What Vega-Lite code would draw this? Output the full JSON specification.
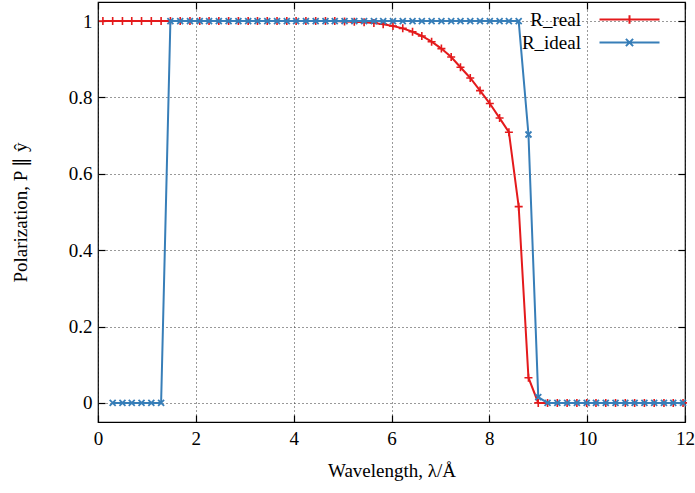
{
  "$schema": "https://vega.github.io/schema/vega-lite/v6.json",
  "width": 587,
  "height": 420,
  "autosize": {"type": "none"},
  "padding": {"left": 98, "top": 2, "right": 10, "bottom": 71},
  "background": "white",
  "config": {
    "font": "Liberation Serif",
    "view": {"stroke": "black", "strokeWidth": 1.2},
    "axis": {
      "labelFont": "Liberation Serif",
      "titleFont": "Liberation Serif",
      "labelFontSize": 19,
      "titleFontSize": 19,
      "titleFontWeight": "normal",
      "labelColor": "black",
      "titleColor": "black",
      "labelFlush": false,
      "domain": false,
      "tickColor": "black",
      "tickSize": -7,
      "tickWidth": 1.2
    },
    "legend": {
      "labelFont": "Liberation Serif",
      "labelFontSize": 19,
      "labelColor": "black"
    }
  },
  "data": {
    "values": [
      {"series": "R_real", "wavelength": 0.10, "P": 1},
      {"series": "R_real", "wavelength": 0.30, "P": 1},
      {"series": "R_real", "wavelength": 0.50, "P": 1},
      {"series": "R_real", "wavelength": 0.69, "P": 1},
      {"series": "R_real", "wavelength": 0.89, "P": 1},
      {"series": "R_real", "wavelength": 1.09, "P": 1},
      {"series": "R_real", "wavelength": 1.29, "P": 1},
      {"series": "R_real", "wavelength": 1.48, "P": 1},
      {"series": "R_real", "wavelength": 1.68, "P": 1},
      {"series": "R_real", "wavelength": 1.88, "P": 1},
      {"series": "R_real", "wavelength": 2.08, "P": 1},
      {"series": "R_real", "wavelength": 2.27, "P": 1},
      {"series": "R_real", "wavelength": 2.47, "P": 1},
      {"series": "R_real", "wavelength": 2.67, "P": 1},
      {"series": "R_real", "wavelength": 2.87, "P": 1},
      {"series": "R_real", "wavelength": 3.07, "P": 1},
      {"series": "R_real", "wavelength": 3.26, "P": 1},
      {"series": "R_real", "wavelength": 3.46, "P": 1},
      {"series": "R_real", "wavelength": 3.66, "P": 1},
      {"series": "R_real", "wavelength": 3.86, "P": 1},
      {"series": "R_real", "wavelength": 4.05, "P": 1},
      {"series": "R_real", "wavelength": 4.25, "P": 1},
      {"series": "R_real", "wavelength": 4.45, "P": 1},
      {"series": "R_real", "wavelength": 4.65, "P": 1},
      {"series": "R_real", "wavelength": 4.84, "P": 1},
      {"series": "R_real", "wavelength": 5.04, "P": 0.999},
      {"series": "R_real", "wavelength": 5.24, "P": 0.998},
      {"series": "R_real", "wavelength": 5.44, "P": 0.997},
      {"series": "R_real", "wavelength": 5.64, "P": 0.995},
      {"series": "R_real", "wavelength": 5.83, "P": 0.992},
      {"series": "R_real", "wavelength": 6.03, "P": 0.987},
      {"series": "R_real", "wavelength": 6.23, "P": 0.981},
      {"series": "R_real", "wavelength": 6.43, "P": 0.972},
      {"series": "R_real", "wavelength": 6.62, "P": 0.961},
      {"series": "R_real", "wavelength": 6.82, "P": 0.946},
      {"series": "R_real", "wavelength": 7.02, "P": 0.928},
      {"series": "R_real", "wavelength": 7.22, "P": 0.906},
      {"series": "R_real", "wavelength": 7.41, "P": 0.879},
      {"series": "R_real", "wavelength": 7.61, "P": 0.851},
      {"series": "R_real", "wavelength": 7.81, "P": 0.818},
      {"series": "R_real", "wavelength": 8.01, "P": 0.784},
      {"series": "R_real", "wavelength": 8.21, "P": 0.746},
      {"series": "R_real", "wavelength": 8.40, "P": 0.709},
      {"series": "R_real", "wavelength": 8.60, "P": 0.514},
      {"series": "R_real", "wavelength": 8.80, "P": 0.066},
      {"series": "R_real", "wavelength": 9.00, "P": 0},
      {"series": "R_real", "wavelength": 9.19, "P": 0},
      {"series": "R_real", "wavelength": 9.39, "P": 0},
      {"series": "R_real", "wavelength": 9.59, "P": 0},
      {"series": "R_real", "wavelength": 9.79, "P": 0},
      {"series": "R_real", "wavelength": 9.99, "P": 0},
      {"series": "R_real", "wavelength": 10.18, "P": 0},
      {"series": "R_real", "wavelength": 10.38, "P": 0},
      {"series": "R_real", "wavelength": 10.58, "P": 0},
      {"series": "R_real", "wavelength": 10.78, "P": 0},
      {"series": "R_real", "wavelength": 10.97, "P": 0},
      {"series": "R_real", "wavelength": 11.17, "P": 0},
      {"series": "R_real", "wavelength": 11.37, "P": 0},
      {"series": "R_real", "wavelength": 11.57, "P": 0},
      {"series": "R_real", "wavelength": 11.76, "P": 0},
      {"series": "R_real", "wavelength": 11.96, "P": 0},
      {"series": "R_ideal", "wavelength": 0.30, "P": 0},
      {"series": "R_ideal", "wavelength": 0.50, "P": 0},
      {"series": "R_ideal", "wavelength": 0.69, "P": 0},
      {"series": "R_ideal", "wavelength": 0.89, "P": 0},
      {"series": "R_ideal", "wavelength": 1.09, "P": 0},
      {"series": "R_ideal", "wavelength": 1.29, "P": 0},
      {"series": "R_ideal", "wavelength": 1.48, "P": 1},
      {"series": "R_ideal", "wavelength": 1.68, "P": 1},
      {"series": "R_ideal", "wavelength": 1.88, "P": 1},
      {"series": "R_ideal", "wavelength": 2.08, "P": 1},
      {"series": "R_ideal", "wavelength": 2.27, "P": 1},
      {"series": "R_ideal", "wavelength": 2.47, "P": 1},
      {"series": "R_ideal", "wavelength": 2.67, "P": 1},
      {"series": "R_ideal", "wavelength": 2.87, "P": 1},
      {"series": "R_ideal", "wavelength": 3.07, "P": 1},
      {"series": "R_ideal", "wavelength": 3.26, "P": 1},
      {"series": "R_ideal", "wavelength": 3.46, "P": 1},
      {"series": "R_ideal", "wavelength": 3.66, "P": 1},
      {"series": "R_ideal", "wavelength": 3.86, "P": 1},
      {"series": "R_ideal", "wavelength": 4.05, "P": 1},
      {"series": "R_ideal", "wavelength": 4.25, "P": 1},
      {"series": "R_ideal", "wavelength": 4.45, "P": 1},
      {"series": "R_ideal", "wavelength": 4.65, "P": 1},
      {"series": "R_ideal", "wavelength": 4.84, "P": 1},
      {"series": "R_ideal", "wavelength": 5.04, "P": 1},
      {"series": "R_ideal", "wavelength": 5.24, "P": 1},
      {"series": "R_ideal", "wavelength": 5.44, "P": 1},
      {"series": "R_ideal", "wavelength": 5.64, "P": 1},
      {"series": "R_ideal", "wavelength": 5.83, "P": 1},
      {"series": "R_ideal", "wavelength": 6.03, "P": 1},
      {"series": "R_ideal", "wavelength": 6.23, "P": 1},
      {"series": "R_ideal", "wavelength": 6.43, "P": 1},
      {"series": "R_ideal", "wavelength": 6.62, "P": 1},
      {"series": "R_ideal", "wavelength": 6.82, "P": 1},
      {"series": "R_ideal", "wavelength": 7.02, "P": 1},
      {"series": "R_ideal", "wavelength": 7.22, "P": 1},
      {"series": "R_ideal", "wavelength": 7.41, "P": 1},
      {"series": "R_ideal", "wavelength": 7.61, "P": 1},
      {"series": "R_ideal", "wavelength": 7.81, "P": 1},
      {"series": "R_ideal", "wavelength": 8.01, "P": 1},
      {"series": "R_ideal", "wavelength": 8.21, "P": 1},
      {"series": "R_ideal", "wavelength": 8.40, "P": 1},
      {"series": "R_ideal", "wavelength": 8.60, "P": 1},
      {"series": "R_ideal", "wavelength": 8.80, "P": 0.703},
      {"series": "R_ideal", "wavelength": 9.00, "P": 0.015},
      {"series": "R_ideal", "wavelength": 9.19, "P": 0},
      {"series": "R_ideal", "wavelength": 9.39, "P": 0},
      {"series": "R_ideal", "wavelength": 9.59, "P": 0},
      {"series": "R_ideal", "wavelength": 9.79, "P": 0},
      {"series": "R_ideal", "wavelength": 9.99, "P": 0},
      {"series": "R_ideal", "wavelength": 10.18, "P": 0},
      {"series": "R_ideal", "wavelength": 10.38, "P": 0},
      {"series": "R_ideal", "wavelength": 10.58, "P": 0},
      {"series": "R_ideal", "wavelength": 10.78, "P": 0},
      {"series": "R_ideal", "wavelength": 10.97, "P": 0},
      {"series": "R_ideal", "wavelength": 11.17, "P": 0},
      {"series": "R_ideal", "wavelength": 11.37, "P": 0},
      {"series": "R_ideal", "wavelength": 11.57, "P": 0},
      {"series": "R_ideal", "wavelength": 11.76, "P": 0},
      {"series": "R_ideal", "wavelength": 11.96, "P": 0}
    ]
  },
  "layer": [
    {
      "encoding": {
        "x": {
          "field": "wavelength",
          "type": "quantitative",
          "scale": {"domain": [0, 12], "nice": false, "zero": false},
          "axis": {
            "values": [0, 2, 4, 6, 8, 10, 12],
            "format": "~g",
            "grid": true,
            "gridColor": "#333",
            "gridDash": [1, 3],
            "gridWidth": 1,
            "labelPadding": 14,
            "title": "Wavelength, λ/Å",
            "titlePadding": 13
          }
        },
        "y": {
          "field": "P",
          "type": "quantitative",
          "scale": {"domain": [-0.05, 1.05], "nice": false, "zero": false},
          "axis": {
            "values": [0, 0.2, 0.4, 0.6, 0.8, 1],
            "format": "~g",
            "grid": true,
            "gridColor": "#333",
            "gridDash": [1, 3],
            "gridWidth": 1,
            "labelPadding": 13,
            "title": "Polarization, P ∥ ŷ",
            "titlePadding": 38
          }
        }
      },
      "layer": [
        {
          "transform": [{"filter": "datum.series === 'R_real'"}],
          "mark": {"type": "line", "strokeWidth": 2},
          "encoding": {
            "color": {
              "field": "series",
              "type": "nominal",
              "scale": {"domain": ["R_real", "R_ideal"], "range": ["#e41a1c", "#377eb8"]},
              "legend": {
                "title": null,
                "orient": "none",
                "legendX": 522,
                "legendY": 8,
                "padding": 0,
                "rowPadding": 3,
                "symbolSize": 144,
                "symbolStrokeWidth": 2,
                "labelAlign": "right",
                "labelOffset": -58,
                "encode": {
                  "symbols": {
                    "update": {
                      "shape": {"signal": "datum.value === 'R_real' ? 'M-5,0H5M0,-0.7V0.7' : 'M-5,0H5M-0.6,-0.6L0.6,0.6M-0.6,0.6L0.6,-0.6'"},
                      "strokeWidth": {"value": 2}
                    }
                  }
                }
              }
            }
          }
        },
        {
          "transform": [{"filter": "datum.series === 'R_real'"}],
          "mark": {"type": "point", "shape": "M-1,0H1M0,-1V1", "size": 64, "filled": false, "strokeWidth": 1.6, "opacity": 1, "color": "#e41a1c"}
        },
        {
          "transform": [{"filter": "datum.series === 'R_ideal'"}],
          "mark": {"type": "line", "strokeWidth": 2},
          "encoding": {
            "color": {"field": "series", "type": "nominal"}
          }
        },
        {
          "transform": [{"filter": "datum.series === 'R_ideal'"}],
          "mark": {"type": "point", "shape": "M-1,-1L1,1M-1,1L1,-1", "size": 36, "filled": false, "strokeWidth": 1.8, "opacity": 1, "color": "#377eb8"}
        }
      ]
    },
    {
      "mark": {"type": "point", "opacity": 0},
      "encoding": {
        "x": {
          "field": "wavelength",
          "type": "quantitative",
          "scale": {"domain": [0, 12], "nice": false, "zero": false},
          "axis": {"orient": "top", "values": [0, 2, 4, 6, 8, 10, 12], "labels": false, "title": null, "grid": false}
        },
        "y": {
          "field": "P",
          "type": "quantitative",
          "scale": {"domain": [-0.05, 1.05], "nice": false, "zero": false},
          "axis": {"orient": "right", "values": [0, 0.2, 0.4, 0.6, 0.8, 1], "labels": false, "title": null, "grid": false}
        }
      }
    }
  ],
  "resolve": {"axis": {"x": "independent", "y": "independent"}}
}
